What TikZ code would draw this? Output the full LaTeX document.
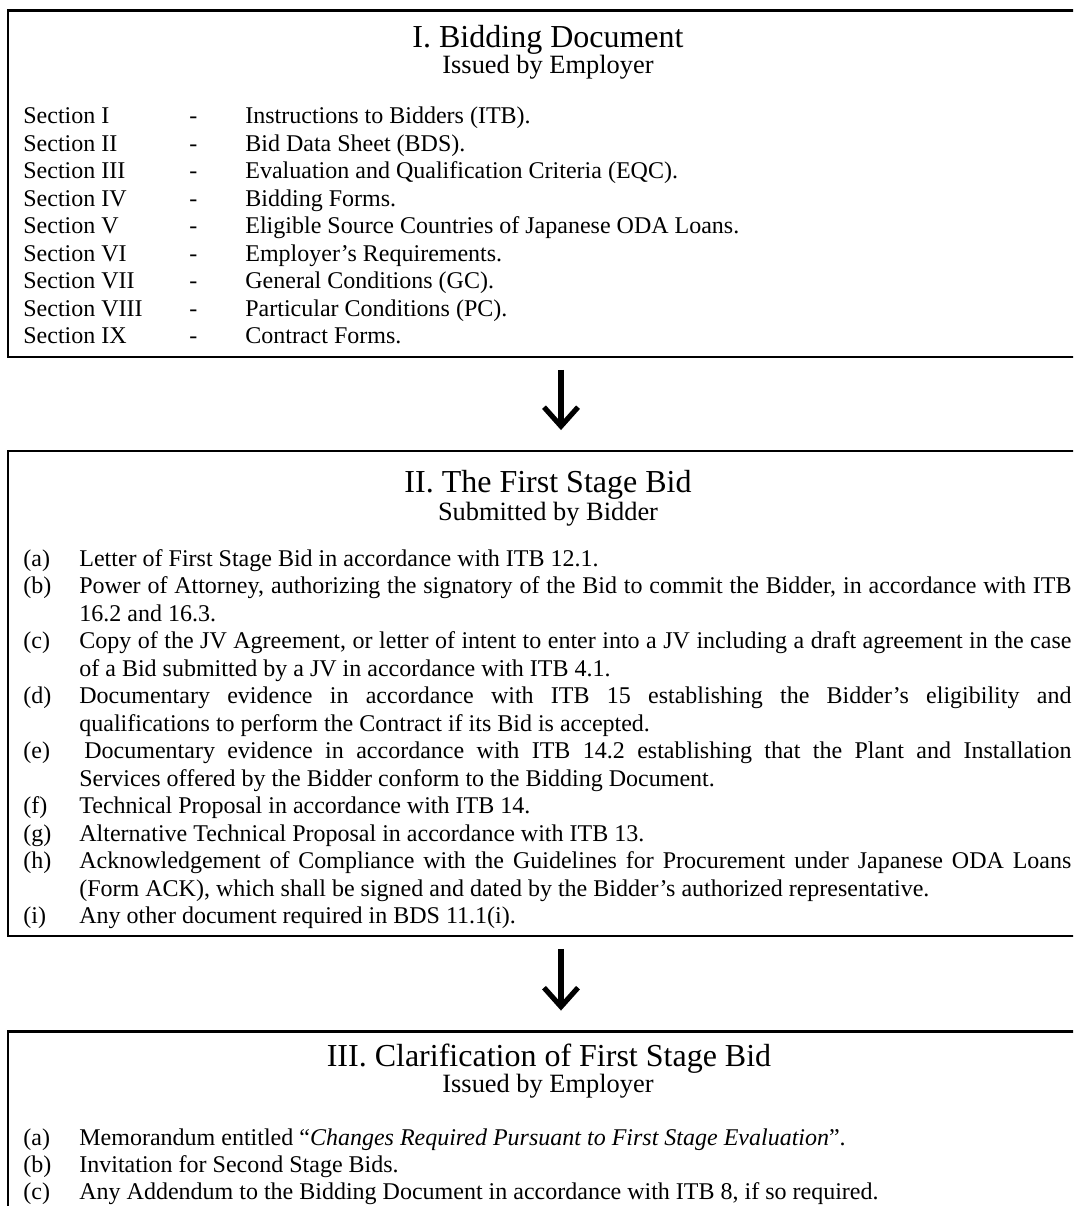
\documentclass[tikz,border=0pt]{standalone}
\usepackage{fontspec}
\setmainfont{Liberation Serif}
\usetikzlibrary{arrows.meta}
\begin{document}
\begin{tikzpicture}[x=0.5pt, y=-0.5pt,
stagebox/.style={draw=black, line width=1.35pt, minimum width=553pt, inner sep=0pt},
heading/.style={inner sep=0pt, anchor=base, font=\fontsize{16}{19}\selectfont},
subheading/.style={inner sep=0pt, anchor=base, font=\fontsize{13.2}{15}\selectfont},
txt/.style={inner sep=0pt, anchor=base west, font=\fontsize{12}{13.75}\selectfont},
item/.style={txt, text width=496pt, align=justify},
flow/.style={line width=2.6pt, -{Straight Barb[length=9.5pt, width=17pt]}, shorten <=5.8pt, shorten >=9.8pt}]
\clip (0,0) rectangle (1073,1206);
\node[stagebox, minimum height=173.15pt] (B1) at (561,183.85) {};
\node[stagebox, minimum height=242.5pt] (B2) at (561,693.5) {};
\node[stagebox, minimum height=200pt] (B3) at (561,1231.5) {};
\node[heading] (T1) at (548,47.3) {I. Bidding Document};
\node[subheading] (S1) at (548,73.3) {Issued by Employer};
\node[txt] (s1) at (23,123.5) {Section I};
\node[txt] (d1) at (189,123.5) {-};
\node[txt] (e1) at (245,123.5) {Instructions to Bidders (ITB).};
\node[txt] (s2) at (23,151) {Section II};
\node[txt] (d2) at (189,151) {-};
\node[txt] (e2) at (245,151) {Bid Data Sheet (BDS).};
\node[txt] (s3) at (23,178.5) {Section III};
\node[txt] (d3) at (189,178.5) {-};
\node[txt] (e3) at (245,178.5) {Evaluation and Qualification Criteria (EQC).};
\node[txt] (s4) at (23,206) {Section IV};
\node[txt] (d4) at (189,206) {-};
\node[txt] (e4) at (245,206) {Bidding Forms.};
\node[txt] (s5) at (23,233.5) {Section V};
\node[txt] (d5) at (189,233.5) {-};
\node[txt] (e5) at (245,233.5) {Eligible Source Countries of Japanese ODA Loans.};
\node[txt] (s6) at (23,261) {Section VI};
\node[txt] (d6) at (189,261) {-};
\node[txt] (e6) at (245,261) {Employer's Requirements.};
\node[txt] (s7) at (23,288.5) {Section VII};
\node[txt] (d7) at (189,288.5) {-};
\node[txt] (e7) at (245,288.5) {General Conditions (GC).};
\node[txt] (s8) at (23,316) {Section VIII};
\node[txt] (d8) at (189,316) {-};
\node[txt] (e8) at (245,316) {Particular Conditions (PC).};
\node[txt] (s9) at (23,343.5) {Section IX};
\node[txt] (d9) at (189,343.5) {-};
\node[txt] (e9) at (245,343.5) {Contract Forms.};
\node[heading] (T2) at (548,492.5) {II. The First Stage Bid};
\node[subheading] (S2) at (548,520.5) {Submitted by Bidder};
\node[txt] (la) at (23,566) {(a)};
\node[item] (ia) at (79,566) {Letter of First Stage Bid in accordance with ITB 12.1.};
\node[txt] (lb) at (23,593.5) {(b)};
\node[item] (ib) at (79,593.5) {Power of Attorney, authorizing the signatory of the Bid to commit the Bidder, in accordance with ITB\linebreak 16.2 and 16.3.};
\node[txt] (lc) at (23,648.5) {(c)};
\node[item] (ic) at (79,648.5) {Copy of the JV Agreement, or letter of intent to enter into a JV including a draft agreement in the case\linebreak of a Bid submitted by a JV in accordance with ITB 4.1.};
\node[txt] (ld) at (23,703.5) {(d)};
\node[item] (id) at (79,703.5) {Documentary evidence in accordance with ITB 15 establishing the Bidder's eligibility and\linebreak qualifications to perform the Contract if its Bid is accepted.};
\node[txt] (le) at (23,758.5) {(e)};
\node[item] (ie) at (79,758.5) {\hspace*{2.5pt}Documentary evidence in accordance with ITB 14.2 establishing that the Plant and Installation\linebreak Services offered by the Bidder conform to the Bidding Document.};
\node[txt] (lf) at (23,813.5) {(f)};
\node[item] (if) at (79,813.5) {Technical Proposal in accordance with ITB 14.};
\node[txt] (lg) at (23,841) {(g)};
\node[item] (ig) at (79,841) {Alternative Technical Proposal in accordance with ITB 13.};
\node[txt] (lh) at (23,868.5) {(h)};
\node[item] (ih) at (79,868.5) {Acknowledgement of Compliance with the Guidelines for Procurement under Japanese ODA Loans\linebreak (Form ACK), which shall be signed and dated by the Bidder's authorized representative.};
\node[txt] (li) at (23,923.5) {(i)};
\node[item] (ii) at (79,923.5) {Any other document required in BDS 11.1(i).};
\node[heading] (T3) at (549,1066.7) {III. Clarification of First Stage Bid};
\node[subheading] (S3) at (548,1092.7) {Issued by Employer};
\node[txt] (ma) at (23,1145) {(a)};
\node[item] (na) at (79,1145) {Memorandum entitled ``\textit{Changes Required Pursuant to First Stage Evaluation}''.};
\node[txt] (mb) at (23,1172) {(b)};
\node[item] (nb) at (79,1172) {Invitation for Second Stage Bids.};
\node[txt] (mc) at (23,1199) {(c)};
\node[item] (nc) at (79,1199) {Any Addendum to the Bidding Document in accordance with ITB 8, if so required.};
\draw[flow] (B1) -- (B2);
\draw[flow] (B2) -- (B3);
\end{tikzpicture}
\end{document}
